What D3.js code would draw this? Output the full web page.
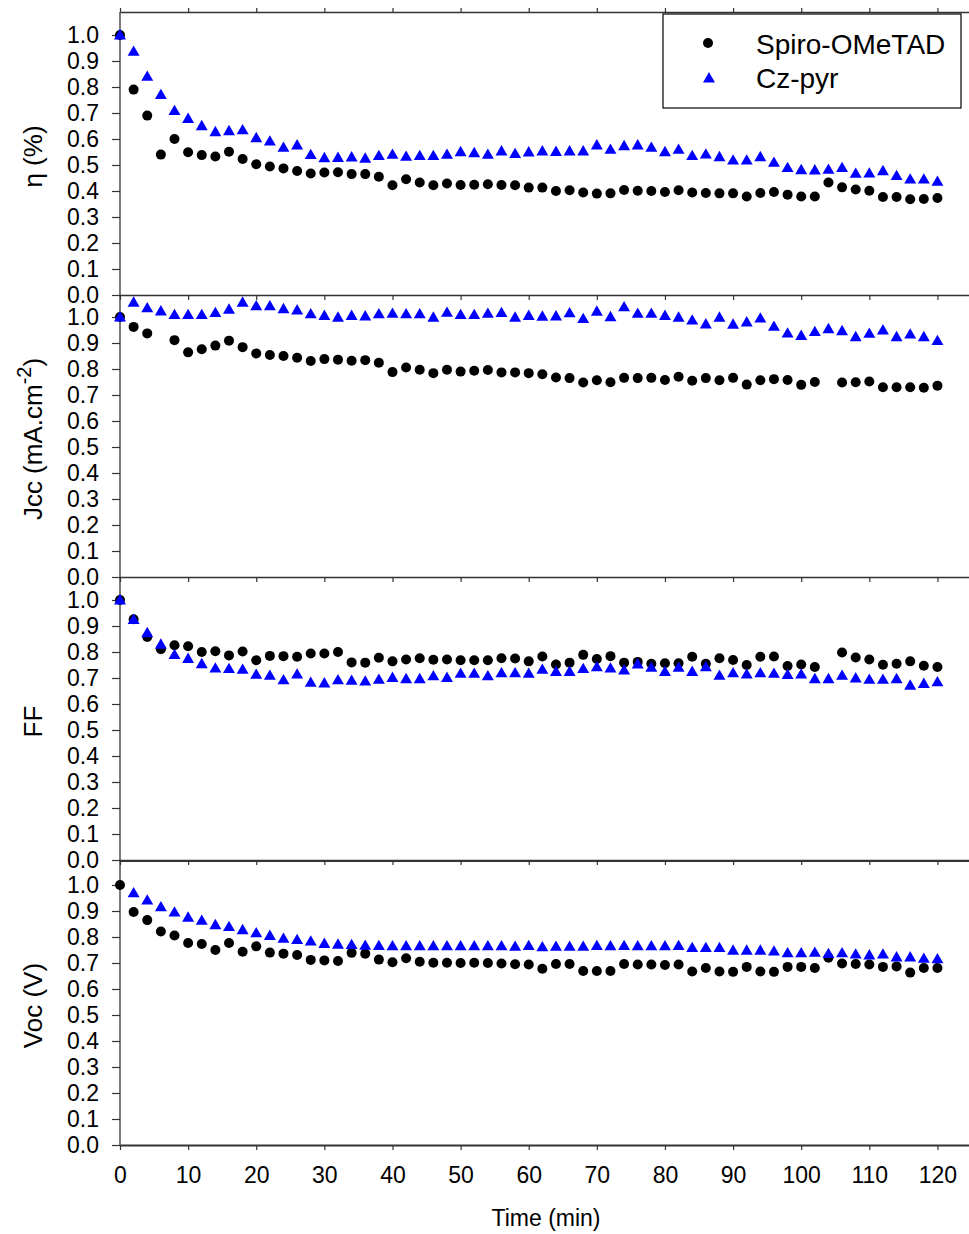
<!DOCTYPE html>
<html><head><meta charset="utf-8">
<script src="https://cdn.jsdelivr.net/npm/d3@7"></script>
<style>
html,body{margin:0;padding:0;background:#fff;}
svg{display:block;font-family:"Liberation Sans",Arial,sans-serif;}
</style></head>
<body><svg id="chart" width="969" height="1234"></svg>
<script>
// ---------------- DATA ----------------
const time = [0,2,4,6,8,10,12,14,16,18,20,22,24,26,28,30,32,34,36,38,40,42,44,46,48,50,52,54,56,58,60,62,64,66,68,70,72,74,76,78,80,82,84,86,88,90,92,94,96,98,100,102,104,106,108,110,112,114,116,118,120];
const xTicks = [0,10,20,30,40,50,60,70,80,90,100,110,120];
const yTicks = [0,0.1,0.2,0.3,0.4,0.5,0.6,0.7,0.8,0.9,1.0];
const seriesNames = ["Spiro-OMeTAD","Cz-pyr"];

const etaSpiro = [1.0,0.79,0.69,0.54,0.60,0.549,0.538,0.533,0.551,0.523,0.503,0.494,0.487,0.477,0.467,0.471,0.472,0.465,0.465,0.455,0.422,0.445,0.433,0.422,0.429,0.423,0.424,0.426,0.423,0.422,0.413,0.413,0.40,0.403,0.394,0.39,0.391,0.404,0.401,0.40,0.396,0.403,0.394,0.392,0.391,0.391,0.379,0.392,0.396,0.386,0.379,0.379,0.433,0.414,0.406,0.401,0.377,0.377,0.368,0.369,0.373];
const etaCz = [1.0,0.937,0.841,0.771,0.709,0.679,0.651,0.628,0.632,0.635,0.605,0.592,0.568,0.577,0.540,0.528,0.529,0.531,0.526,0.536,0.541,0.533,0.536,0.536,0.541,0.551,0.547,0.541,0.554,0.544,0.550,0.554,0.552,0.554,0.554,0.577,0.56,0.574,0.577,0.568,0.551,0.56,0.536,0.542,0.532,0.519,0.519,0.532,0.51,0.49,0.482,0.481,0.483,0.49,0.468,0.469,0.478,0.459,0.446,0.446,0.437];

const jccSpiro = [1.0,0.962,0.937,null,0.911,0.864,0.876,0.89,0.909,0.884,0.86,0.854,0.85,0.843,0.831,0.838,0.836,0.832,0.834,0.824,0.788,0.806,0.797,0.784,0.797,0.79,0.793,0.796,0.787,0.787,0.784,0.78,0.767,0.765,0.748,0.757,0.749,0.766,0.765,0.766,0.758,0.77,0.755,0.765,0.757,0.766,0.74,0.757,0.761,0.758,0.739,0.75,null,0.748,0.749,0.752,0.73,0.73,0.73,0.728,0.736];
const jccCz = [1.0,1.057,1.035,1.023,1.009,1.009,1.009,1.017,1.03,1.057,1.043,1.043,1.032,1.027,1.012,1.006,0.999,1.006,1.004,1.012,1.014,1.012,1.012,0.999,1.018,1.009,1.009,1.014,1.017,0.999,1.006,1.003,1.004,1.016,0.994,1.022,1.001,1.039,1.014,1.014,1.006,0.999,0.988,0.973,0.999,0.972,0.981,0.996,0.964,0.938,0.929,0.944,0.955,0.947,0.924,0.937,0.95,0.924,0.934,0.924,0.909];

const ffSpiro = [1.0,0.926,0.858,0.811,0.826,0.822,0.80,0.803,0.787,0.802,0.768,0.785,0.784,0.782,0.794,0.794,0.80,0.76,0.759,0.778,0.764,0.771,0.776,0.77,0.771,0.768,0.768,0.768,0.776,0.775,0.764,0.783,0.752,0.759,0.789,0.773,0.784,0.759,0.762,0.755,0.757,0.757,0.782,0.755,0.776,0.769,0.75,0.782,0.783,0.746,0.752,0.742,null,0.798,0.779,0.771,0.751,0.755,0.764,0.747,0.742];
const ffCz = [1.0,0.925,0.874,0.83,0.79,0.775,0.755,0.738,0.736,0.733,0.714,0.71,0.693,0.715,0.683,0.681,0.693,0.691,0.688,0.695,0.702,0.697,0.697,0.708,0.702,0.718,0.718,0.708,0.72,0.72,0.718,0.733,0.725,0.725,0.736,0.743,0.738,0.731,0.754,0.741,0.725,0.741,0.725,0.743,0.71,0.72,0.715,0.72,0.718,0.713,0.715,0.697,0.697,0.71,0.70,0.695,0.695,0.697,0.672,0.679,0.685];

const vocSpiro = [1.0,0.896,0.865,0.821,0.806,0.777,0.773,0.75,0.777,0.743,0.764,0.74,0.736,0.731,0.712,0.71,0.708,0.739,0.736,0.713,0.703,0.718,0.705,0.701,0.701,0.70,0.701,0.70,0.698,0.695,0.694,0.678,0.696,0.696,0.669,0.669,0.669,0.696,0.694,0.694,0.692,0.694,0.667,0.681,0.667,0.666,0.685,0.667,0.666,0.685,0.685,0.681,0.72,0.698,0.696,0.694,0.685,0.687,0.663,0.681,0.681];
const vocCz = [null,0.97,0.942,0.916,0.896,0.876,0.864,0.847,0.84,0.828,0.816,0.806,0.795,0.79,0.784,0.775,0.772,0.771,0.768,0.767,0.766,0.766,0.766,0.766,0.766,0.766,0.766,0.766,0.766,0.764,0.767,0.762,0.764,0.764,0.764,0.767,0.766,0.767,0.766,0.766,0.766,0.767,0.759,0.759,0.759,0.749,0.749,0.749,0.746,0.739,0.739,0.741,0.736,0.739,0.734,0.731,0.734,0.723,0.723,0.718,0.716];

const panelSpiro = [etaSpiro, jccSpiro, ffSpiro, vocSpiro];
const panelCz = [etaCz, jccCz, ffCz, vocCz];

// ---------------- LAYOUT ----------------
const svg = d3.select("#chart");
const leftX = 120, topY = 12;
const bottoms = [295, 577, 860, 1145];
const unit = 260; // px for 0 -> 1
const axisColor = "#333";
const tickFont = 23;

const x = d3.scaleLinear().domain([0,125]).range([leftX, leftX + 6.812*125]);

svg.append("line").attr("x1",leftX).attr("x2",leftX).attr("y1",topY).attr("y2",bottoms[3])
  .attr("stroke",axisColor).attr("stroke-width",1.3);

const topAxis = svg.append("g").attr("transform",`translate(0,${topY})`)
  .call(d3.axisTop(x).tickValues(xTicks).tickSize(4).tickSizeOuter(0).tickFormat(""));

const titles = [
  {t:"η (%)"},
  {t:"Jcc (mA.cm", sup:"-2", tail:")"},
  {t:"FF"},
  {t:"Voc (V)"}
];

const triangle = d3.symbol().type(d3.symbolTriangle).size(62);

bottoms.forEach((b,i) => {
  const y = d3.scaleLinear().domain([0,1]).range([b, b - unit]);
  const g = svg.append("g");

  const bx = g.append("g").attr("transform",`translate(0,${b})`)
    .call(d3.axisBottom(x).tickValues(xTicks).tickSize(5).tickSizeOuter(0).tickPadding(17));
  if (i < 3) bx.selectAll("text").remove();
  else bx.selectAll("text").attr("font-size",tickFont).attr("fill","#000").attr("font-family","Liberation Sans, Arial, sans-serif");
  if (i === 2) {
    g.append("line").attr("x1",leftX).attr("x2",969).attr("y1",b+1.5).attr("y2",b+1.5)
      .attr("stroke",axisColor).attr("stroke-width",1.2);
  }
  bx.select(".domain").attr("stroke",axisColor).attr("stroke-width",i===3?1.8:1.3);
  bx.selectAll(".tick line").attr("stroke",axisColor).attr("stroke-width",1.2);

  const ly = g.append("g").attr("transform",`translate(${leftX},0)`)
    .call(d3.axisLeft(y).tickValues(yTicks).tickFormat(d3.format(".1f")).tickSize(8).tickSizeOuter(0).tickPadding(13));
  ly.select(".domain").remove();
  ly.selectAll(".tick line").attr("stroke",axisColor).attr("stroke-width",1.2);
  ly.selectAll("text").attr("font-size",tickFont).attr("fill","#000").attr("font-family","Liberation Sans, Arial, sans-serif");

  const cy = (b + (i===0?topY:bottoms[i-1]))/2 + 3;
  const tt = svg.append("text").attr("transform",`translate(42,${cy}) rotate(-90)`)
    .attr("text-anchor","middle").attr("font-size",26).attr("fill","#000");
  tt.append("tspan").text(titles[i].t);
  if (titles[i].sup) {
    tt.append("tspan").attr("font-size",20).attr("dy",-11).text(titles[i].sup);
    tt.append("tspan").attr("dy",11).text(titles[i].tail);
  }

  const ds = time.map((t,k)=>({t, v: panelSpiro[i][k]})).filter(d=>d.v!==null);
  const dc = time.map((t,k)=>({t, v: panelCz[i][k]})).filter(d=>d.v!==null);
  g.append("g").selectAll("circle").data(ds).join("circle")
    .attr("cx",d=>x(d.t)).attr("cy",d=>y(d.v)).attr("r",5).attr("fill","#000");
  g.append("g").selectAll("path").data(dc).join("path")
    .attr("d",triangle).attr("transform",d=>`translate(${x(d.t)},${y(d.v)+1})`).attr("fill","#0000ff");
});

topAxis.select(".domain").attr("stroke",axisColor).attr("stroke-width",1.3);
topAxis.selectAll(".tick line").attr("stroke",axisColor).attr("stroke-width",1.2);

svg.append("text").attr("x",546).attr("y",1226).attr("text-anchor","middle")
  .attr("font-size",23).attr("fill","#000").text("Time (min)");

const lg = svg.append("g");
lg.append("rect").attr("x",663).attr("y",14).attr("width",298).attr("height",94)
  .attr("fill","#fff").attr("stroke","#000").attr("stroke-width",1.2);
lg.append("circle").attr("cx",708).attr("cy",43).attr("r",5).attr("fill","#000");
lg.append("path").attr("d",triangle).attr("transform","translate(709,79)").attr("fill","#0000ff");
lg.append("text").attr("x",756).attr("y",54).attr("font-size",28).attr("fill","#000").text(seriesNames[0]);
lg.append("text").attr("x",756).attr("y",88).attr("font-size",28).attr("fill","#000").text(seriesNames[1]);
</script></body></html>
